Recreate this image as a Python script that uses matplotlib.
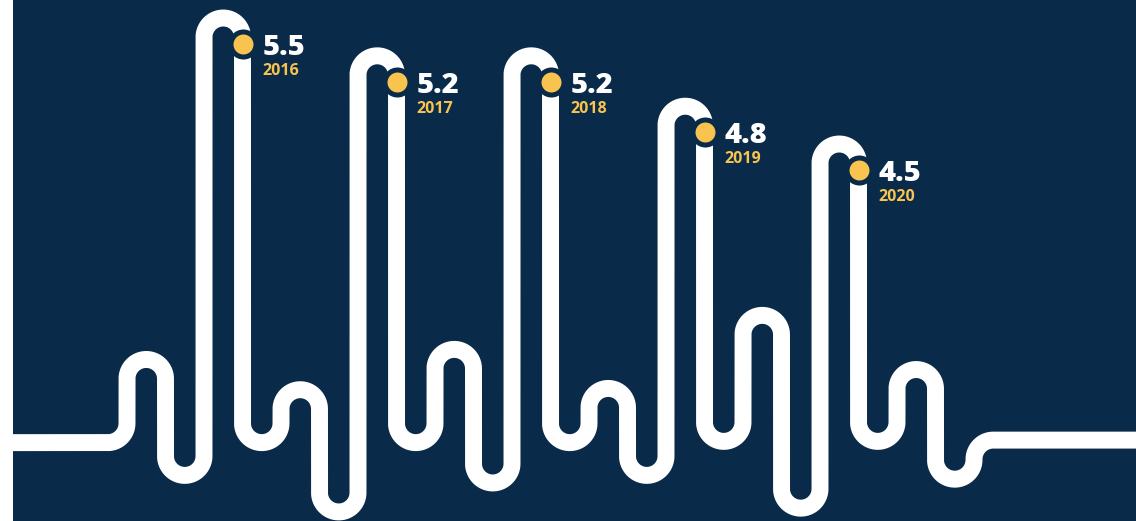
import numpy as np
import matplotlib.pyplot as plt

# data
years = ['2016', '2017', '2018', '2019', '2020']
values = [5.5, 5.2, 5.2, 4.8, 4.5]

# decorative wiggle levels (same units as values), one per turn between legs
# None marks where a data peak goes
turn_levels = [2.79, 1.87, None, 2.13, 2.55, 1.58, None, 2.13, 2.87, 1.81, None, 2.13,
               2.56, 1.87, None, 2.14, 3.14, 1.61, None, 2.14, 2.71, 1.84]
base_left = 2.13
base_right = 2.15

navy = '#0a2a4a'
yellow = '#f8c44f'

fig = plt.figure(figsize=(11.36, 5.21), dpi=100, facecolor='white')
ax = fig.add_axes([13 / 1136, 0, 1 - 13 / 1136, 1])
ax.set_facecolor(navy)
ax.set_xlim(13, 1136)
ax.set_ylim(1.508, 5.643)
ax.set_xticks([])
ax.set_yticks([])
for s in ax.spines.values():
    s.set_visible(False)

px_per_unit = 521 / (5.643 - 1.508)
x0, step = 127, 38.5
rx = step / 2
ry = rx / px_per_unit

# fill peaks into the turn levels
levels = list(turn_levels)
vi = iter(values)
for i, l in enumerate(levels):
    if l is None:
        levels[i] = next(vi)

xs, ys = [13], [base_left]
t = np.linspace(-np.pi / 2, 0, 20)
xs += list(x0 - rx + rx * np.cos(t))
ys += list(base_left + ry + ry * np.sin(t))
for i, lv in enumerate(levels):
    xm = x0 + i * step + rx
    if i % 2 == 0:
        t = np.linspace(np.pi, 0, 40)
        cy = lv - ry
    else:
        t = np.linspace(np.pi, 2 * np.pi, 40)
        cy = lv + ry
    xs += list(xm + rx * np.cos(t))
    ys += list(cy + ry * np.sin(t))
xl = x0 + len(levels) * step
t = np.linspace(np.pi, np.pi / 2, 20)
xs += list(xl + rx + rx * np.cos(t))
ys += list(base_right - ry + ry * np.sin(t))
xs.append(1140)
ys.append(base_right)

ax.plot(xs, ys, color='white', lw=12.2, solid_joinstyle='round', solid_capstyle='butt')

# dots and labels at the data peaks
peak_idx = [i for i, l in enumerate(turn_levels) if l is None]
for k, i in enumerate(peak_idx):
    px = x0 + (i + 1) * step
    py = values[k] - 26 / px_per_unit
    ax.scatter([px], [py], s=324, color=yellow, edgecolor=navy, linewidth=3.6, zorder=3)
    ax.annotate(f'{values[k]}', (px, py), xytext=(14.4, -7.9), textcoords='offset points',
                color='white', fontsize=21, fontweight='heavy', family='Open Sans',
                va='baseline', ha='left')
    ax.annotate(years[k], (px, py), xytext=(14.4, -22.3), textcoords='offset points',
                color=yellow, fontsize=11.5, fontweight='bold', family='Open Sans',
                va='baseline', ha='left')

fig.savefig('out.png', dpi=100, facecolor='white')
